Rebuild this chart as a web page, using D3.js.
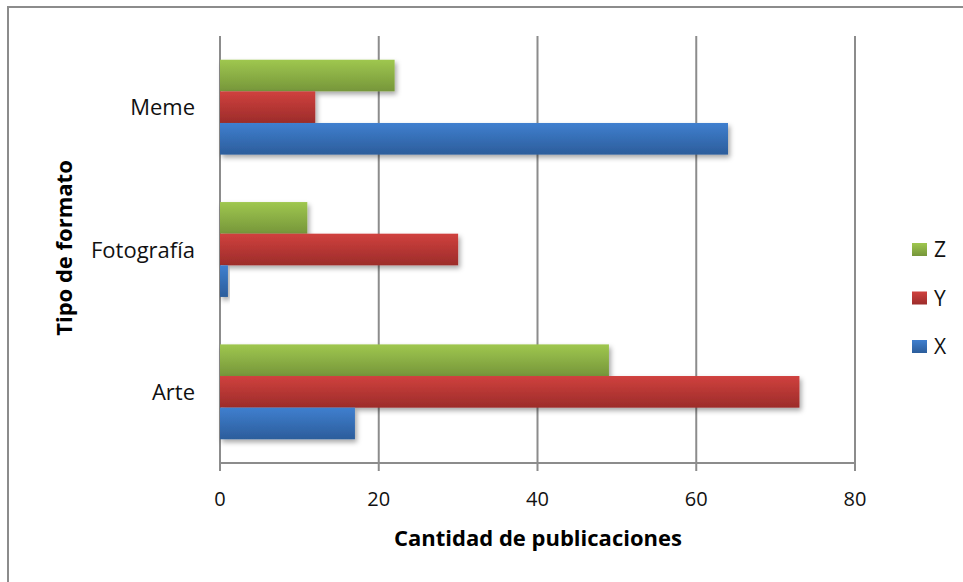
<!DOCTYPE html>
<meta charset="utf-8">
<script src="https://d3js.org/d3.v7.min.js"></script>
<style>
  body { margin: 0; background: #fff; }
  text { font-family: "Open Sans", "Liberation Sans", sans-serif; }
</style>
<svg id="chart"></svg>
<script>
  // categories top to bottom as in picture
  var categories = ["Meme", "Fotografía", "Arte"];
  var seriesNames = ["Z", "Y", "X"];
  var zVals = [22, 11, 49];
  var yVals = [12, 30, 73];
  var xVals = [64, 1, 17];
  var xTicks = [0, 20, 40, 60, 80];

  var width = 963, height = 582;
  var svg = d3.select('#chart').attr('width', width).attr('height', height);

  // outer frame (Excel chart border)
  svg.append('rect')
    .attr('x', 8).attr('y', 7).attr('width', 1000).attr('height', 700)
    .attr('fill', 'none').attr('stroke', '#8c8c8c').attr('stroke-width', 2);

  var plotLeft = 220, plotRight = 855, plotTop = 36, plotBottom = 463;

  var xscale = d3.scaleLinear().domain([0, 80]).range([plotLeft, plotRight]);
  var yband = d3.scaleBand().domain(categories).range([plotTop, plotBottom]).paddingInner(0).paddingOuter(0);
  // gap width 150% -> bars take 3/(3+1.5) of each band
  var inner = d3.scaleBand().domain(seriesNames).range([0, yband.bandwidth() * 3 / 4.5]);
  var offset = (yband.bandwidth() - inner.range()[1]) / 2;

  var colors = {
    Z: ['#9fc74f', '#76963a'],
    Y: ['#d0413e', '#9c2c2a'],
    X: ['#3f7fcf', '#2c5d9b']
  };

  var defs = svg.append('defs');
  seriesNames.forEach(function(s) {
    var g = defs.append('linearGradient').attr('id', 'grad' + s)
      .attr('x1', 0).attr('y1', 0).attr('x2', 0).attr('y2', 1);
    g.append('stop').attr('offset', '0%').attr('stop-color', colors[s][0]);
    g.append('stop').attr('offset', '100%').attr('stop-color', colors[s][1]);
  });
  var f = defs.append('filter').attr('id', 'shadow').attr('x', '-10%').attr('y', '-20%').attr('width', '130%').attr('height', '160%');
  f.append('feDropShadow').attr('dx', 2).attr('dy', 3).attr('stdDeviation', 2.5)
    .attr('flood-color', '#000').attr('flood-opacity', 0.35);

  // gridlines
  svg.selectAll('line.grid')
    .data(xTicks)
    .enter().append('line')
    .attr('class', 'grid')
    .attr('x1', function(d) { return xscale(d); })
    .attr('x2', function(d) { return xscale(d); })
    .attr('y1', plotTop).attr('y2', plotBottom + 8)
    .attr('stroke', '#8c8c8c').attr('stroke-width', 2);

  // x axis line
  svg.append('line')
    .attr('x1', plotLeft).attr('x2', plotRight)
    .attr('y1', plotBottom).attr('y2', plotBottom)
    .attr('stroke', '#8c8c8c').attr('stroke-width', 2);

  var seriesData = { Z: zVals, Y: yVals, X: xVals };
  var rows = [];
  categories.forEach(function(c, i) {
    seriesNames.forEach(function(s) {
      rows.push({ cat: c, s: s, v: seriesData[s][i] });
    });
  });

  svg.selectAll('rect.bar')
    .data(rows)
    .enter().append('rect')
    .attr('class', 'bar')
    .attr('x', xscale(0))
    .attr('y', function(d) { return yband(d.cat) + offset + inner(d.s); })
    .attr('width', function(d) { return xscale(d.v) - xscale(0); })
    .attr('height', inner.bandwidth())
    .attr('fill', function(d) { return 'url(#grad' + d.s + ')'; })
    .attr('filter', 'url(#shadow)');

  // tick labels
  svg.selectAll('text.xt')
    .data(xTicks)
    .enter().append('text')
    .attr('class', 'xt')
    .attr('x', function(d) { return xscale(d); })
    .attr('y', 506)
    .attr('text-anchor', 'middle')
    .attr('font-size', 20)
    .attr('fill', '#111')
    .text(function(d) { return d; });

  svg.selectAll('text.yt')
    .data(categories)
    .enter().append('text')
    .attr('class', 'yt')
    .attr('x', 195)
    .attr('y', function(d) { return yband(d) + yband.bandwidth() / 2 + 8; })
    .attr('text-anchor', 'end')
    .attr('font-size', 22)
    .attr('fill', '#111')
    .text(function(d) { return d; });

  // axis titles
  svg.append('text')
    .attr('x', 538).attr('y', 546)
    .attr('text-anchor', 'middle')
    .attr('font-size', 22).attr('font-weight', 'bold')
    .text('Cantidad de publicaciones');

  svg.append('text')
    .attr('transform', 'translate(72,248) rotate(-90)')
    .attr('text-anchor', 'middle')
    .attr('font-size', 22).attr('font-weight', 'bold')
    .text('Tipo de formato');

  // legend
  var legendY = d3.scalePoint().domain(seriesNames).range([249, 346]);
  var lg = svg.selectAll('g.lg')
    .data(seriesNames)
    .enter().append('g')
    .attr('class', 'lg')
    .attr('transform', function(d) { return 'translate(912,' + legendY(d) + ')'; });
  lg.append('rect')
    .attr('x', 0).attr('y', -6).attr('width', 15).attr('height', 13)
    .attr('fill', function(d) { return 'url(#grad' + d + ')'; });
  lg.append('text')
    .attr('x', 22).attr('y', 8)
    .attr('font-size', 21)
    .attr('fill', '#111')
    .text(function(d) { return d; });
</script>
